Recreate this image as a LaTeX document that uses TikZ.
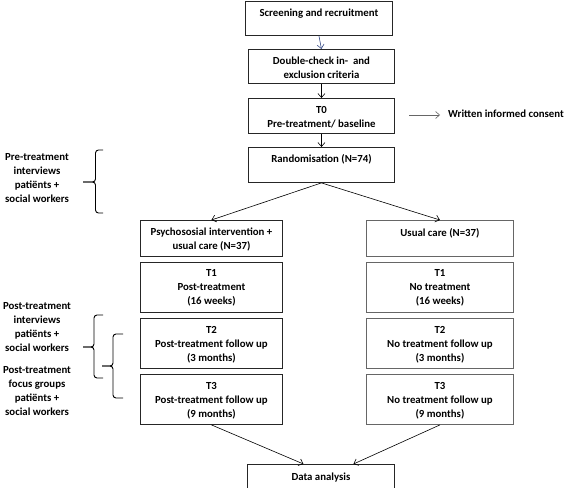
\documentclass[tikz,border=0pt]{standalone}
\usepackage{fontspec}
\setmainfont{Carlito}
\usetikzlibrary{arrows.meta}
\definecolor{navy}{RGB}{55,75,135}
\begin{document}
\begin{tikzpicture}[x=1pt,y=-1pt,
  box/.style={draw=black!85, line width=0.9pt, rectangle, inner sep=0pt, anchor=north west},
  lbox/.style={box, minimum width=142pt},
  rbox/.style={box, draw=black!60, minimum width=147pt},
  cbox/.style={box, minimum width=146pt},
  txt/.style={font=\bfseries\fontsize{10.8}{14}\selectfont, align=center, inner sep=0pt, anchor=north,
              execute at begin node={\rule{0pt}{8pt}}},
  arr/.style={line width=0.6pt, -{Straight Barb[length=4pt,width=7pt]}},
  brace/.style={line width=0.9pt, rounded corners=3pt}]
\fill[white] (0,0) rectangle (567,487);
\useasboundingbox (0,0) rectangle (567,487);

% central column
\node[box, minimum width=147pt, minimum height=34pt] (scr) at (245,1) {};
\node[txt] (scrT) at ([yshift=-7pt]scr.north) {Screening and recruitment};
\node[cbox, minimum height=34pt] (dbl) at (248,49) {};
\node[txt] (dblT) at ([yshift=-8pt]dbl.north) {Double-check in-\ \ and\\exclusion criteria};
\node[cbox, minimum height=35pt] (t0) at (248,98) {};
\node[txt] (t0T) at ([yshift=-8pt]t0.north) {T0\\Pre-treatment/ baseline};
\node[cbox, minimum height=35pt] (rnd) at (248,147) {};
\node[txt] (rndT) at ([yshift=-7pt]rnd.north) {Randomisation (N=74)};

% consent
\coordinate (wc) at (409,115);
\node[font=\bfseries\fontsize{10.8}{14}\selectfont, anchor=west, inner xsep=8pt, inner ysep=0pt,
      text height=7pt, text depth=2pt] (consent) at (440,115) {Written informed consent};

% left column
\node[lbox, minimum height=36pt] (psy) at (140,220) {};
\node[txt] (psyT) at ([yshift=-8pt]psy.north) {Psychososial intervention +\\usual care (N=37)};
\node[lbox, minimum height=50pt] (t1l) at (140,262) {};
\node[txt] (t1lT) at ([yshift=-7pt]t1l.north) {T1\\Post-treatment\\(16 weeks)};
\node[lbox, minimum height=50pt] (t2l) at (140,318) {};
\node[txt] (t2lT) at ([yshift=-8pt]t2l.north) {T2\\Post-treatment follow up\\(3 months)};
\node[lbox, minimum height=50pt] (t3l) at (140,374) {};
\node[txt] (t3lT) at ([yshift=-8pt]t3l.north) {T3\\Post-treatment follow up\\(9 months)};

% right column
\node[rbox, minimum height=36pt] (uc) at (366,220) {};
\node[txt] (ucT) at ([yshift=-8pt]uc.north) {Usual care (N=37)};
\node[rbox, minimum height=50pt] (t1r) at (366,262) {};
\node[txt] (t1rT) at ([yshift=-7pt]t1r.north) {T1\\No treatment\\(16 weeks)};
\node[rbox, minimum height=50pt] (t2r) at (366,318) {};
\node[txt] (t2rT) at ([yshift=-8pt]t2r.north) {T2\\No treatment follow up\\(3 months)};
\node[rbox, minimum height=50pt] (t3r) at (366,374) {};
\node[txt] (t3rT) at ([yshift=-8pt]t3r.north) {T3\\No treatment follow up\\(9 months)};

% data analysis
\node[box, minimum width=147pt, minimum height=28pt] (data) at (247,464) {};
\node[txt] (dataT) at ([yshift=-8pt]data.north) {Data analysis};

% connectors
\draw[arr, navy] (scr.south) -- (dbl.north);
\draw[arr] (dbl.south) -- (t0.north);
\draw[arr] (t0.south) -- (rnd.north);
\draw[arr, black!60] (wc) -- (consent.west);
\draw[arr] (rnd.south) -- (psy.north);
\draw[arr] (rnd.south) -- (uc.north);
\draw[arr] (t3l.south) -- ([xshift=-17.5pt]data.north);
\draw[arr] (t3r.south) -- ([xshift=32.5pt]data.north);

% left annotations
\node[txt] (pre) at (37,153.5) {Pre-treatment\\interviews\\patiënts +\\social workers};
\node[txt] (post1) at (37,302.5) {Post-treatment\\interviews\\patiënts +\\social workers};
\node[txt] (post2) at (37,366.5) {Post-treatment\\focus groups\\patiënts +\\social workers};

% braces
\draw[brace] (103,150) -- (95.5,150) -- (95.5,182) -- (83,182);
\draw[brace] (83,182) -- (95.5,182) -- (95.5,213) -- (103,213);
\draw[brace] (103,315) -- (94,315) -- (94,347) -- (83,347);
\draw[brace] (83,347) -- (94,347) -- (94,378) -- (103,378);
\draw[brace] (123,334) -- (113,334) -- (113,366) -- (102,366);
\draw[brace] (102,366) -- (113,366) -- (113,398) -- (123,398);
\end{tikzpicture}
\end{document}
